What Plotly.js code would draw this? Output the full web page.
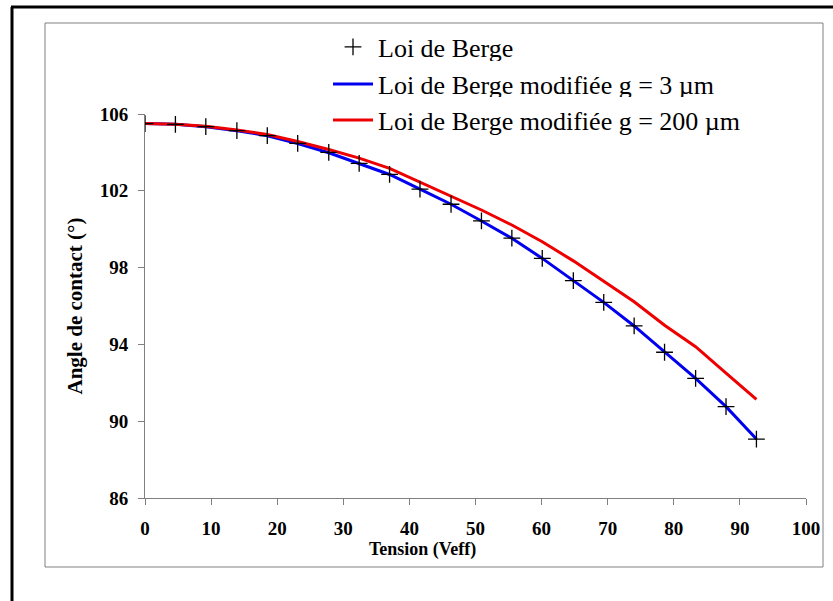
<!DOCTYPE html>
<html>
<head>
<meta charset="utf-8">
<script src="https://cdn.plot.ly/plotly-3.0.1.min.js"></script>
<style>html,body{margin:0;padding:0;background:#fff;}#chart{width:833px;height:601px;}</style>
</head>
<body>
<div id="chart"></div>
<script>
// Data
const tension = [0, 4.6, 9.2, 13.9, 18.5, 23.1, 27.8, 32.4, 37.0, 41.6, 46.3, 50.9, 55.5, 60.1, 64.8, 69.4, 74.0, 78.6, 83.3, 87.9, 92.5];
const angleBerge = [105.5, 105.46, 105.34, 105.13, 104.87, 104.47, 104.0, 103.43, 102.86, 102.09, 101.30, 100.43, 99.53, 98.48, 97.32, 96.19, 94.96, 93.59, 92.23, 90.76, 89.07];
const angleG3 = [105.5, 105.46, 105.34, 105.13, 104.87, 104.46, 103.98, 103.42, 102.85, 102.09, 101.30, 100.43, 99.53, 98.48, 97.32, 96.19, 94.96, 93.59, 92.23, 90.76, 89.07];
const angleG200 = [105.5, 105.47, 105.36, 105.17, 104.93, 104.57, 104.15, 103.70, 103.17, 102.44, 101.69, 101.00, 100.22, 99.35, 98.35, 97.27, 96.22, 95.00, 93.88, 92.50, 91.14];
const xTicks = [0, 10, 20, 30, 40, 50, 60, 70, 80, 90, 100];
const yTicks = [86, 90, 94, 98, 102, 106];
const names = ["Loi de Berge", "Loi de Berge modifiée g = 3 µm", "Loi de Berge modifiée g = 200 µm"];

const serif = "Liberation Serif";

const traces = [
  {x: tension, y: angleG3, mode: "lines", name: names[1], legend: "legend2", showlegend: true,
   line: {color: "#0000ee", width: 3}},
  {x: tension, y: angleG200, mode: "lines", name: names[2], legend: "legend3", showlegend: true,
   line: {color: "#ee0000", width: 3}},
  {x: tension, y: angleBerge, mode: "markers", name: names[0], legend: "legend", showlegend: true,
   marker: {symbol: "cross-thin-open", size: 12, color: "#000", line: {color: "#000", width: 1.3}}}
];

// pixel helpers for paper coordinates (plot area: x 145..806, y 114..498)
const L = 145, R = 806, T = 114, B = 498;
const px = v => (v - L) / (R - L);
const py = v => (B - v) / (B - T);

function leg(yc) {
  return {x: px(328), xanchor: "left", y: py(yc), yanchor: "middle", itemwidth: 40,
          font: {family: serif, size: 26, color: "#000"}};
}

const layout = {
  width: 833, height: 601,
  font: {family: serif},
  margin: {l: L, r: 833 - R, t: T, b: 601 - B, pad: 0},
  paper_bgcolor: "#fff", plot_bgcolor: "#fff",
  legend: leg(47), legend2: leg(84), legend3: leg(120),
  xaxis: {range: [0, 100], tickvals: xTicks, ticktext: xTicks.map(String),
          showgrid: false, zeroline: false, showline: true, linecolor: "#808080", linewidth: 1,
          ticks: "outside", ticklen: 6, tickcolor: "#808080", tickwidth: 1, ticklabelstandoff: 7,
          tickfont: {family: serif, size: 19, color: "#000", weight: "bold"}, fixedrange: true},
  yaxis: {range: [86, 106], tickvals: yTicks, ticktext: yTicks.map(String),
          showgrid: false, zeroline: false, showline: true, linecolor: "#808080", linewidth: 1,
          ticks: "outside", ticklen: 6, tickcolor: "#808080", tickwidth: 1, ticklabelstandoff: 6,
          tickfont: {family: serif, size: 19, color: "#000", weight: "bold"},
          title: {text: "<b>Angle de contact (°)</b>", font: {family: serif, size: 21, color: "#000"}, standoff: 11},
          fixedrange: true},
  annotations: [
    {xref: "paper", yref: "paper", x: px(422), y: py(549), xanchor: "center", yanchor: "middle",
     showarrow: false, text: "<b>Tension (Veff)</b>", font: {family: serif, size: 18, color: "#000"}}
  ],
  shapes: [
    {type: "rect", xref: "paper", yref: "paper", x0: px(45), x1: px(823), y0: py(567), y1: py(23),
     line: {color: "#808080", width: 1}, fillcolor: "rgba(0,0,0,0)", layer: "below"},
    {type: "line", xref: "paper", yref: "paper", x0: px(12), x1: px(12), y0: py(7), y1: py(605),
     line: {color: "#000", width: 3}},
    {type: "line", xref: "paper", yref: "paper", x0: px(11), x1: px(840), y0: py(7), y1: py(7),
     line: {color: "#000", width: 3}}
  ]
};

Plotly.newPlot("chart", traces, layout, {displayModeBar: false});
</script>
</body>
</html>
